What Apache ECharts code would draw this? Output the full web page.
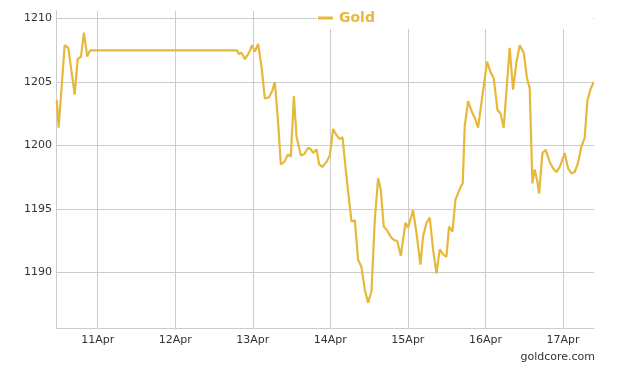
<!DOCTYPE html>
<html>
<head>
<meta charset="utf-8">
<script src="https://cdn.jsdelivr.net/npm/echarts@6/dist/echarts.min.js"></script>
<style>
html,body{margin:0;padding:0;background:#fff;}
#chart{width:617px;height:369px;}
</style>
</head>
<body>
<div id="chart"></div>
<script>
// time in April day units (e.g. 13.25 = 13 Apr 06:00)
const seriesName = 'Gold';
const times = [
  10.472,10.497,10.575,10.621,10.704,10.742,10.785,10.823,10.866,10.901,
  12.795,12.821,12.856,12.898,12.950,12.992,13.027,13.070,13.113,13.156,
  13.211,13.250,13.285,13.327,13.362,13.405,13.456,13.491,13.530,13.564,
  13.620,13.662,13.714,13.749,13.778,13.822,13.856,13.897,13.951,13.994,
  14.036,14.080,14.122,14.157,14.209,14.273,14.316,14.358,14.402,14.445,
  14.487,14.531,14.573,14.616,14.651,14.689,14.732,14.789,14.831,14.861,
  14.909,14.969,15.003,15.067,15.111,15.162,15.196,15.240,15.282,15.325,
  15.369,15.411,15.454,15.497,15.531,15.575,15.613,15.682,15.707,15.733,
  15.776,15.832,15.862,15.905,15.961,16.021,16.064,16.107,16.155,16.193,
  16.236,16.313,16.356,16.399,16.442,16.494,16.536,16.571,16.606,16.635,
  16.665,16.692,16.735,16.777,16.829,16.871,16.915,16.958,17.022,17.065,
  17.108,17.151,17.193,17.237,17.280,17.314,17.353,17.396
];
const prices = [
  1203.6,1201.4,1207.9,1207.7,1204.0,1206.8,1207.0,1208.9,1207.0,1207.5,
  1207.5,1207.2,1207.3,1206.8,1207.3,1207.9,1207.4,1208.0,1206.2,1203.7,
  1203.8,1204.3,1205.0,1201.8,1198.5,1198.7,1199.3,1199.1,1203.9,1200.7,
  1199.2,1199.3,1199.8,1199.7,1199.4,1199.7,1198.5,1198.3,1198.7,1199.2,
  1201.3,1200.8,1200.5,1200.65,1197.5,1194.0,1194.1,1191.0,1190.4,1188.6,
  1187.6,1188.5,1194.1,1197.4,1196.5,1193.6,1193.3,1192.7,1192.5,1192.5,
  1191.3,1193.9,1193.5,1194.9,1193.1,1190.6,1192.8,1193.9,1194.3,1191.8,
  1189.9,1191.8,1191.4,1191.2,1193.6,1193.2,1195.7,1196.75,1197.0,1201.5,
  1203.5,1202.55,1202.2,1201.4,1203.9,1206.6,1205.8,1205.3,1202.8,1202.55,
  1201.4,1207.7,1204.4,1206.5,1207.9,1207.3,1205.3,1204.5,1197.0,1198.1,
  1197.3,1196.2,1199.4,1199.65,1198.7,1198.2,1197.9,1198.3,1199.4,1198.2,
  1197.8,1197.9,1198.6,1199.9,1200.6,1203.5,1204.4,1205.0
];
const xMin = 10.463, xMax = 17.40;
const yMin = 1185.6, yMax = 1210.6;
const monthLabel = 'Apr';
const sourceText = 'goldcore.com';

const lineColor = '#E6B83C';
const gridColor = '#cccccc';
const font = 'DejaVu Sans';

const data = times.map((t, i) => [t, prices[i]]);

const chart = echarts.init(document.getElementById('chart'), null, {renderer: 'canvas'});
chart.setOption({
  animation: false,
  backgroundColor: '#fff',
  grid: {left: 56, right: 23, top: 11, bottom: 41, containLabel: false},
  legend: {
    data: [seriesName],
    left: 318, top: 11, padding: 0,
    icon: 'rect', itemWidth: 15, itemHeight: 3,
    textStyle: {color: lineColor, fontFamily: font, fontWeight: 'bold', fontSize: 14, padding: [0,0,0,1]},
    z: 10
  },
  xAxis: {
    type: 'value', min: xMin, max: xMax, splitNumber: 7,
    axisLine: {show: true, lineStyle: {color: gridColor}},
    axisTick: {show: false},
    axisLabel: {
      showMinLabel: false, showMaxLabel: false, margin: 7,
      color: '#333', fontFamily: font, fontSize: 11,
      formatter: v => Math.round(v) + monthLabel
    },
    splitLine: {show: true, showMinLine: false, showMaxLine: false, lineStyle: {color: gridColor, width: 1}}
  },
  yAxis: {
    type: 'value', min: yMin, max: yMax, splitNumber: 5,
    axisLine: {show: true, lineStyle: {color: gridColor}},
    axisTick: {show: false},
    axisLabel: {
      showMinLabel: false, showMaxLabel: false, margin: 4,
      color: '#333', fontFamily: font, fontSize: 11,
      formatter: v => String(Math.round(v))
    },
    splitLine: {show: true, showMinLine: false, showMaxLine: false, lineStyle: {color: gridColor, width: 1}}
  },
  graphic: [
    {type: 'rect', left: 317, top: 11, shape: {width: 276, height: 18}, style: {fill: '#fff'}, z: 3, silent: true},
    {type: 'text', right: 22, top: 352, style: {text: sourceText, fill: '#333', font: '11px "DejaVu Sans"'}, z: 5}
  ],
  series: [{
    name: seriesName, type: 'line', data: data,
    showSymbol: false, symbol: 'none',
    lineStyle: {color: lineColor, width: 2.2},
    itemStyle: {color: lineColor}, z: 2
  }]
});
</script>
</body>
</html>
